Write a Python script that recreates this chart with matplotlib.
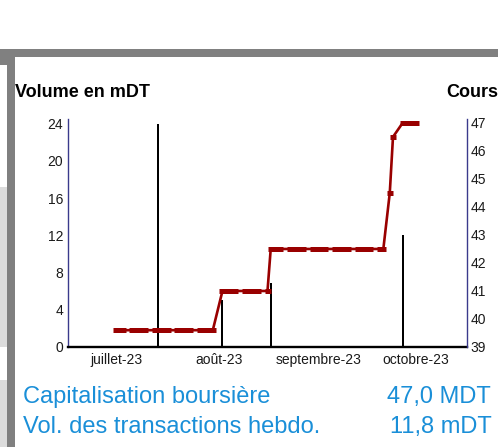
import matplotlib
matplotlib.use("Agg")
import matplotlib.pyplot as plt
import pandas as pd
from matplotlib.patches import Rectangle

plt.rcParams['font.family'] = ['Liberation Sans', 'DejaVu Sans']

# ---------------- data ----------------
# daily closing price (Cours), one list line per trading week
price_dates = pd.bdate_range("2023-07-05", "2023-10-06").drop(pd.Timestamp("2023-09-27"))
price_cours = [
    39.6, 39.6, 39.6,                    # 5-7 juil.
    39.6, 39.6, 39.6, 39.6, 39.6,        # 10-14 juil.
    39.6, 39.6, 39.6, 39.6, 39.6,        # 17-21 juil.
    39.6, 39.6, 39.6, 39.6, 39.6,        # 24-28 juil.
    39.6, 39.6, 39.6, 39.6, 39.6,        # 31 juil.-4 août
    41.0, 41.0, 41.0, 41.0, 41.0,        # 7-11 août
    41.0, 41.0, 41.0, 41.0, 41.0,        # 14-18 août
    41.0, 42.5, 42.5, 42.5, 42.5,        # 21-25 août
    42.5, 42.5, 42.5, 42.5, 42.5,        # 28 août-1 sept.
    42.5, 42.5, 42.5, 42.5, 42.5,        # 4-8 sept.
    42.5, 42.5, 42.5, 42.5, 42.5,        # 11-15 sept.
    42.5, 42.5, 42.5, 42.5, 42.5,        # 18-22 sept.
    42.5, 42.5, 44.5, 46.5,              # 25-29 sept.
    47.0, 47.0, 47.0, 47.0, 47.0,        # 2-6 oct.
]

# daily traded volume (mDT)
vol_dates = ["2023-07-18", "2023-08-07", "2023-08-22", "2023-10-02"]
vol_values = [24.0, 5.0, 6.9, 12.0]

x_tick_dates = ["2023-07-05", "2023-08-06", "2023-09-06", "2023-10-06"]
x_tick_labels = ["juillet-23", "août-23", "septembre-23", "octobre-23"]
vol_ticks = [0, 4, 8, 12, 16, 20, 24]
cours_ticks = [39, 40, 41, 42, 43, 44, 45, 46, 47]

title_left = "Volume en mDT"
title_right = "Cours"
info_labels = ["Capitalisation boursière", "Vol. des transactions hebdo."]
info_values = ["47,0 MDT", "11,8 mDT"]

# ---------------- figure ----------------
W, H = 498, 447
fig = plt.figure(figsize=(W / 100, H / 100), dpi=100)
fig.patch.set_facecolor("white")


def px_rect(x0, y0, x1, y1, color):
    fig.add_artist(Rectangle((x0 / W, 1 - y1 / H), (x1 - x0) / W, (y1 - y0) / H,
                             transform=fig.transFigure, facecolor=color,
                             edgecolor="none", zorder=0))


# page background pieces (screenshot frame)
px_rect(0, 187, 7.3, 347, "#dcdcdc")
px_rect(0, 380, 7.3, 447, "#dcdcdc")
px_rect(0, 48.5, 498, 57.3, "#808080")
px_rect(0, 48.5, 15, 65, "#808080")
px_rect(7.3, 48.5, 15, 447, "#808080")

NAVY = "#3a3a8c"
RED = "#990000"
BLUE = "#1a8fd8"

ax = fig.add_axes([68 / W, 1 - 347 / H, (467 - 68) / W, (347 - 119) / H])
ax.bar(pd.to_datetime(vol_dates), vol_values, width=0.62, color="black", zorder=2)
ax.set_xlim(pd.Timestamp("2023-06-20"), pd.Timestamp("2023-10-22"))
ax.set_ylim(0, 24.5)
ax.set_yticks(vol_ticks)
ax.set_xticks(pd.to_datetime(x_tick_dates))
ax.set_xticklabels(x_tick_labels)

ax2 = ax.twinx()
ax2.plot(price_dates, price_cours, color=RED, lw=1.9, marker="_", ms=4.0, mew=3.6,
         clip_on=False, solid_joinstyle="miter")
ax2.set_ylim(39, 47.14)
ax2.set_yticks(cours_ticks)

for a in (ax, ax2):
    a.patch.set_visible(False)
    a.spines["top"].set_visible(False)
ax.spines["right"].set_visible(False)
ax.spines["left"].set_color(NAVY)
ax.spines["left"].set_linewidth(1.0)
ax.spines["bottom"].set_color("black")
ax.spines["bottom"].set_linewidth(1.7)
ax2.spines["left"].set_visible(False)
ax2.spines["bottom"].set_visible(False)
ax2.spines["right"].set_color(NAVY)
ax2.spines["right"].set_linewidth(1.0)

ax.tick_params(axis="y", length=0, pad=3.4, labelsize=10, labelcolor="#1a1a1a")
ax.tick_params(axis="x", length=0, pad=4.0, labelsize=10, labelcolor="#1a1a1a")
ax2.tick_params(axis="y", length=0, pad=2.4, labelsize=10, labelcolor="#1a1a1a")

# titles
fig.text(15 / W, 1 - 96.7 / H, title_left, fontsize=13, fontweight="bold",
         ha="left", va="baseline", color="black")
fig.text(446.7 / W, 1 - 96.7 / H, title_right, fontsize=13, fontweight="bold",
         ha="left", va="baseline", color="black")

# info block
fig.text(23.3 / W, 1 - 403.3 / H, info_labels[0], fontsize=17, color=BLUE,
         ha="left", va="baseline")
fig.text(23.3 / W, 1 - 433.3 / H, info_labels[1], fontsize=17, color=BLUE,
         ha="left", va="baseline")
fig.text(386.7 / W, 1 - 403.3 / H, info_values[0], fontsize=17, color=BLUE,
         ha="left", va="baseline")
fig.text(390 / W, 1 - 433.3 / H, info_values[1], fontsize=17, color=BLUE,
         ha="left", va="baseline")

fig.savefig("out.png", dpi=100)
